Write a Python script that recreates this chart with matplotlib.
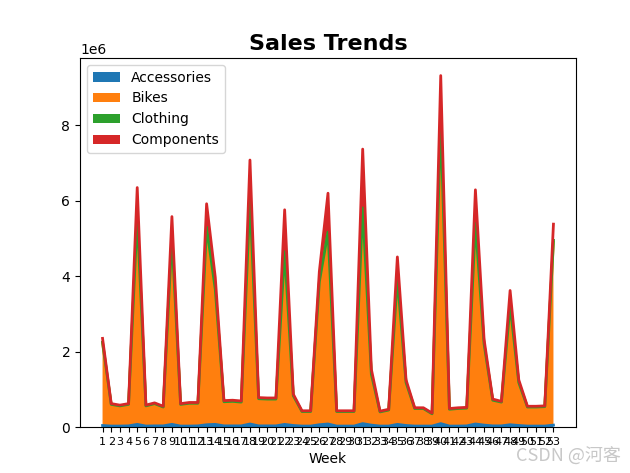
import matplotlib
matplotlib.use("Agg")
import matplotlib.pyplot as plt
import numpy as np

weeks = list(range(1, 54))

# Top of stack (total) and top of Clothing layer, in millions
total = [2.35, 0.62, 0.58, 0.62, 6.35, 0.58, 0.64, 0.55, 5.58, 0.62,
         0.65, 0.65, 5.92, 3.97, 0.70, 0.71, 0.69, 7.08, 0.78, 0.77,
         0.77, 5.76, 0.87, 0.43, 0.43, 4.12, 6.20, 0.43, 0.43, 0.43,
         7.37, 1.53, 0.42, 0.47, 4.51, 1.25, 0.51, 0.51, 0.37, 9.32,
         0.49, 0.51, 0.52, 6.29, 2.32, 0.74, 0.68, 3.62, 1.25, 0.55,
         0.55, 0.56, 5.38]
upto_clothing = [2.25, 0.60, 0.56, 0.60, 5.57, 0.56, 0.62, 0.53, 5.04, 0.60,
                 0.63, 0.63, 5.30, 3.65, 0.67, 0.68, 0.66, 6.02, 0.75, 0.74,
                 0.74, 4.65, 0.83, 0.41, 0.41, 3.85, 5.17, 0.41, 0.41, 0.41,
                 5.81, 1.40, 0.40, 0.45, 3.94, 1.18, 0.49, 0.49, 0.35, 8.13,
                 0.47, 0.49, 0.50, 5.40, 2.20, 0.71, 0.66, 3.23, 1.18, 0.53,
                 0.53, 0.54, 4.95]
accessories = [0.04, 0.025, 0.025, 0.03, 0.07, 0.025, 0.03, 0.03, 0.07, 0.025,
               0.025, 0.03, 0.06, 0.07, 0.03, 0.03, 0.03, 0.08, 0.03, 0.03,
               0.03, 0.07, 0.04, 0.025, 0.025, 0.06, 0.08, 0.025, 0.025, 0.025,
               0.09, 0.05, 0.025, 0.025, 0.07, 0.04, 0.025, 0.025, 0.025, 0.09,
               0.025, 0.025, 0.03, 0.08, 0.05, 0.03, 0.03, 0.06, 0.04, 0.025,
               0.025, 0.025, 0.05]
clothing = [0.03, 0.015, 0.015, 0.015, 0.05, 0.015, 0.015, 0.015, 0.04, 0.015,
            0.015, 0.015, 0.04, 0.03, 0.015, 0.015, 0.015, 0.05, 0.015, 0.015,
            0.015, 0.05, 0.02, 0.012, 0.012, 0.04, 0.05, 0.012, 0.012, 0.012,
            0.06, 0.03, 0.012, 0.012, 0.04, 0.02, 0.012, 0.012, 0.012, 0.06,
            0.012, 0.012, 0.012, 0.05, 0.03, 0.015, 0.015, 0.04, 0.02, 0.015,
            0.015, 0.015, 0.04]
categories = ["Accessories", "Bikes", "Clothing", "Components"]

total = np.array(total) * 1e6
upto_clothing = np.array(upto_clothing) * 1e6
acc = np.array(accessories) * 1e6
clo = np.array(clothing) * 1e6
bikes = upto_clothing - acc - clo
comp = total - upto_clothing
layers = [acc, bikes, clo, comp]
colors = ["#1f77b4", "#ff7f0e", "#2ca02c", "#d62728"]

fig = plt.figure(figsize=(6.3, 4.73), dpi=100)
fig.subplots_adjust(left=80/630, right=576/630, top=1-58/473, bottom=1-427/473)
ax = fig.add_subplot(111)
ax.stackplot(weeks, *layers, labels=categories, colors=colors)
cum = np.cumsum(np.vstack(layers), axis=0)
for row, c in zip(cum, colors):
    ax.plot(weeks, row, color=c, linewidth=2)
ax.set_title("Sales Trends", fontsize=16, fontweight="bold")
ax.set_xlabel("Week")
ax.set_xticks(weeks)
ax.set_xticklabels([str(w) for w in weeks], fontsize=8)
ax.set_ylim(bottom=0)
ax.legend(loc="upper left")

fig.text(0.985, 0.015, "CSDN @河客", ha="right", va="bottom", fontsize=13,
         color="#c8c8c8", family=["Noto Sans CJK SC", "DejaVu Sans"])

fig.savefig("out.png", dpi=100)
